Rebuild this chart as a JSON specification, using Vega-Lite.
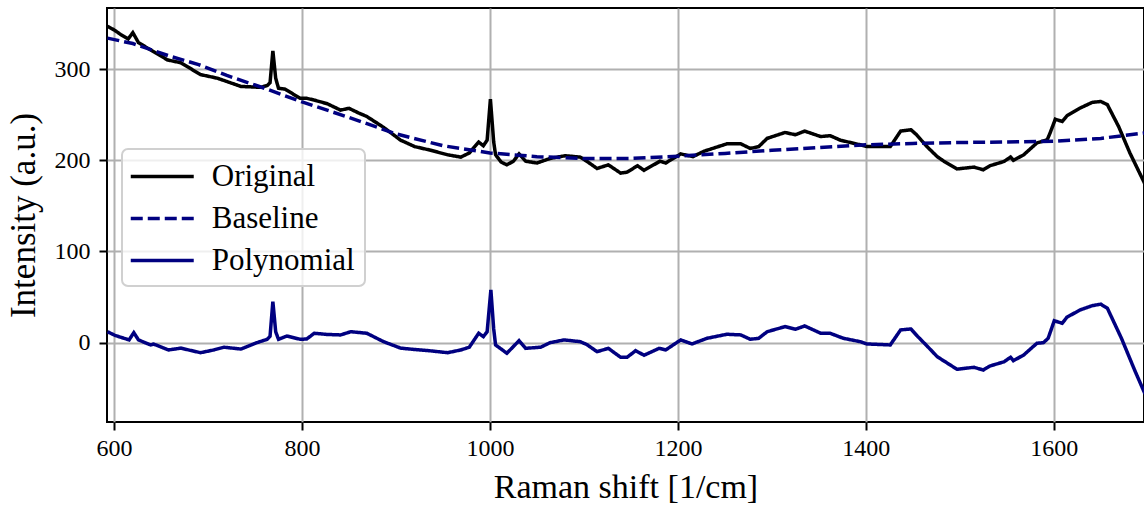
{
"$schema": "https://vega.github.io/schema/vega-lite/v6.json",
"width": 1037, "height": 414,
"autosize": "none",
"padding": {"left": 107, "top": 8, "right": 0, "bottom": 84},
"background": "white",
"config": {
  "view": {"stroke": "black", "strokeWidth": 2},
  "font": "Liberation Serif",
  "axis": {"grid": true, "gridColor": "#b0b0b0", "gridWidth": 2, "domain": false, "tickColor": "black", "tickWidth": 2, "tickSize": 8, "labelFont": "Liberation Serif", "labelFontSize": 24, "labelColor": "black", "titleFont": "Liberation Serif", "titleFontSize": 34, "titleFontWeight": "normal", "titleColor": "black", "format": "d"},
  "legend": {"orient": "none", "legendX": 15, "legendY": 141, "padding": 10, "strokeColor": "#d0d0d0", "strokeWidth": 2, "cornerRadius": 6, "fillColor": "rgba(255,255,255,0.8)", "symbolType": "M-2,0H2", "symbolSize": 992, "symbolOffset": 12.75, "symbolStrokeWidth": 3.5, "labelFont": "Liberation Serif", "labelFontSize": 31, "labelColor": "black", "labelOffset": 32, "rowPadding": 9}
},
"data": {"values": [
{"s":"Original","x":593,"y":347},{"s":"Original","x":600,"y":343},{"s":"Original","x":607,"y":338},{"s":"Original","x":615,"y":333},{"s":"Original","x":620,"y":340},{"s":"Original","x":626,"y":329},{"s":"Original","x":639,"y":321},{"s":"Original","x":657,"y":310},{"s":"Original","x":671,"y":307},{"s":"Original","x":692,"y":294},{"s":"Original","x":710,"y":290},{"s":"Original","x":735,"y":281},{"s":"Original","x":756,"y":280},{"s":"Original","x":763,"y":282},{"s":"Original","x":766,"y":285},{"s":"Original","x":769,"y":320},{"s":"Original","x":772,"y":290},{"s":"Original","x":775,"y":279},{"s":"Original","x":782,"y":278},{"s":"Original","x":798,"y":268},{"s":"Original","x":805,"y":268},{"s":"Original","x":813,"y":266},{"s":"Original","x":827,"y":262},{"s":"Original","x":841,"y":255},{"s":"Original","x":850,"y":257},{"s":"Original","x":860,"y":252},{"s":"Original","x":869,"y":248},{"s":"Original","x":887,"y":236},{"s":"Original","x":905,"y":222},{"s":"Original","x":920,"y":215},{"s":"Original","x":937,"y":211},{"s":"Original","x":955,"y":206},{"s":"Original","x":969,"y":203.5},{"s":"Original","x":978,"y":208},{"s":"Original","x":988,"y":220},{"s":"Original","x":993,"y":216},{"s":"Original","x":997,"y":222},{"s":"Original","x":1000.5,"y":267},{"s":"Original","x":1004,"y":220},{"s":"Original","x":1006,"y":206},{"s":"Original","x":1012,"y":198},{"s":"Original","x":1018,"y":195},{"s":"Original","x":1025,"y":199},{"s":"Original","x":1031,"y":207},{"s":"Original","x":1038,"y":199},{"s":"Original","x":1050,"y":197},{"s":"Original","x":1064,"y":202},{"s":"Original","x":1080,"y":205},{"s":"Original","x":1096,"y":203.5},{"s":"Original","x":1103,"y":199},{"s":"Original","x":1114,"y":191},{"s":"Original","x":1126,"y":195},{"s":"Original","x":1139,"y":186},{"s":"Original","x":1146,"y":187},{"s":"Original","x":1157,"y":194},{"s":"Original","x":1164,"y":189},{"s":"Original","x":1181,"y":199},{"s":"Original","x":1187,"y":197},{"s":"Original","x":1203,"y":207},{"s":"Original","x":1216,"y":204},{"s":"Original","x":1228,"y":210},{"s":"Original","x":1252,"y":218},{"s":"Original","x":1267,"y":218},{"s":"Original","x":1277,"y":213},{"s":"Original","x":1286,"y":215},{"s":"Original","x":1295,"y":224},{"s":"Original","x":1314,"y":230.5},{"s":"Original","x":1325,"y":228},{"s":"Original","x":1335,"y":232},{"s":"Original","x":1352,"y":226},{"s":"Original","x":1362,"y":227},{"s":"Original","x":1373,"y":222},{"s":"Original","x":1394,"y":217},{"s":"Original","x":1401,"y":215},{"s":"Original","x":1426,"y":215},{"s":"Original","x":1437,"y":232},{"s":"Original","x":1448,"y":233.5},{"s":"Original","x":1454,"y":228},{"s":"Original","x":1465,"y":215},{"s":"Original","x":1476,"y":204},{"s":"Original","x":1483,"y":199},{"s":"Original","x":1497,"y":190.5},{"s":"Original","x":1515,"y":192.5},{"s":"Original","x":1525,"y":189.6},{"s":"Original","x":1532,"y":194},{"s":"Original","x":1547,"y":198.7},{"s":"Original","x":1554,"y":203.5},{"s":"Original","x":1557,"y":200},{"s":"Original","x":1568,"y":206},{"s":"Original","x":1582,"y":219},{"s":"Original","x":1593,"y":222.5},{"s":"Original","x":1596,"y":229.8},{"s":"Original","x":1601.6,"y":245},{"s":"Original","x":1609,"y":242.6},{"s":"Original","x":1614,"y":248.8},{"s":"Original","x":1628,"y":257.3},{"s":"Original","x":1641,"y":263.5},{"s":"Original","x":1650,"y":264.5},{"s":"Original","x":1657,"y":261},{"s":"Original","x":1669,"y":237},{"s":"Original","x":1681,"y":208},{"s":"Original","x":1697,"y":174},
{"s":"Baseline","x":593,"y":334},{"s":"Baseline","x":620,"y":328},{"s":"Baseline","x":640,"y":321},{"s":"Baseline","x":660,"y":314},{"s":"Baseline","x":690,"y":305},{"s":"Baseline","x":720,"y":293},{"s":"Baseline","x":760,"y":279},{"s":"Baseline","x":800,"y":264},{"s":"Baseline","x":850,"y":247},{"s":"Baseline","x":900,"y":229},{"s":"Baseline","x":950,"y":216},{"s":"Baseline","x":1000,"y":208},{"s":"Baseline","x":1050,"y":204},{"s":"Baseline","x":1100,"y":202},{"s":"Baseline","x":1150,"y":202},{"s":"Baseline","x":1200,"y":204.5},{"s":"Baseline","x":1250,"y":207.5},{"s":"Baseline","x":1300,"y":211},{"s":"Baseline","x":1350,"y":214},{"s":"Baseline","x":1400,"y":217},{"s":"Baseline","x":1450,"y":218.5},{"s":"Baseline","x":1500,"y":219.5},{"s":"Baseline","x":1550,"y":220},{"s":"Baseline","x":1600,"y":221},{"s":"Baseline","x":1650,"y":224},{"s":"Baseline","x":1697,"y":230},
{"s":"Polynomial","x":593,"y":12},{"s":"Polynomial","x":601,"y":8},{"s":"Polynomial","x":610,"y":5},{"s":"Polynomial","x":616,"y":3},{"s":"Polynomial","x":621,"y":11},{"s":"Polynomial","x":626,"y":3},{"s":"Polynomial","x":639,"y":-2.5},{"s":"Polynomial","x":642,"y":-1.5},{"s":"Polynomial","x":658,"y":-8},{"s":"Polynomial","x":671,"y":-6},{"s":"Polynomial","x":692,"y":-11},{"s":"Polynomial","x":706,"y":-8},{"s":"Polynomial","x":717,"y":-5},{"s":"Polynomial","x":735,"y":-7},{"s":"Polynomial","x":752,"y":0},{"s":"Polynomial","x":763,"y":3.7},{"s":"Polynomial","x":766,"y":7},{"s":"Polynomial","x":769,"y":45},{"s":"Polynomial","x":772,"y":12},{"s":"Polynomial","x":775,"y":3.7},{"s":"Polynomial","x":784,"y":7.3},{"s":"Polynomial","x":798,"y":3.7},{"s":"Polynomial","x":805,"y":4},{"s":"Polynomial","x":813,"y":10.3},{"s":"Polynomial","x":827,"y":9},{"s":"Polynomial","x":841,"y":8.5},{"s":"Polynomial","x":852,"y":12},{"s":"Polynomial","x":869,"y":10.3},{"s":"Polynomial","x":887,"y":1},{"s":"Polynomial","x":905,"y":-6},{"s":"Polynomial","x":920,"y":-7.5},{"s":"Polynomial","x":937,"y":-9},{"s":"Polynomial","x":955,"y":-11},{"s":"Polynomial","x":969,"y":-8},{"s":"Polynomial","x":978,"y":-5},{"s":"Polynomial","x":988,"y":10.3},{"s":"Polynomial","x":993,"y":6.6},{"s":"Polynomial","x":997,"y":12},{"s":"Polynomial","x":1001,"y":57.8},{"s":"Polynomial","x":1004,"y":15},{"s":"Polynomial","x":1006,"y":-2.5},{"s":"Polynomial","x":1018,"y":-11.6},{"s":"Polynomial","x":1031,"y":2.2},{"s":"Polynomial","x":1038,"y":-6.2},{"s":"Polynomial","x":1054,"y":-5},{"s":"Polynomial","x":1064,"y":0},{"s":"Polynomial","x":1079,"y":3},{"s":"Polynomial","x":1096,"y":1.1},{"s":"Polynomial","x":1103,"y":-2},{"s":"Polynomial","x":1114,"y":-9.9},{"s":"Polynomial","x":1126,"y":-6.2},{"s":"Polynomial","x":1139,"y":-16},{"s":"Polynomial","x":1146,"y":-16},{"s":"Polynomial","x":1155,"y":-8.8},{"s":"Polynomial","x":1164,"y":-13.8},{"s":"Polynomial","x":1180,"y":-6.2},{"s":"Polynomial","x":1187,"y":-8},{"s":"Polynomial","x":1203,"y":3},{"s":"Polynomial","x":1215,"y":-1.4},{"s":"Polynomial","x":1231,"y":4.8},{"s":"Polynomial","x":1252,"y":9.2},{"s":"Polynomial","x":1267,"y":8.5},{"s":"Polynomial","x":1277,"y":3.7},{"s":"Polynomial","x":1286,"y":4.8},{"s":"Polynomial","x":1295,"y":12},{"s":"Polynomial","x":1314,"y":17.6},{"s":"Polynomial","x":1325,"y":14.7},{"s":"Polynomial","x":1335,"y":18.3},{"s":"Polynomial","x":1352,"y":10.3},{"s":"Polynomial","x":1362,"y":10.3},{"s":"Polynomial","x":1376,"y":4.8},{"s":"Polynomial","x":1394,"y":1.1},{"s":"Polynomial","x":1401,"y":-1.4},{"s":"Polynomial","x":1426,"y":-2.5},{"s":"Polynomial","x":1437,"y":14},{"s":"Polynomial","x":1448,"y":15},{"s":"Polynomial","x":1455,"y":7},{"s":"Polynomial","x":1465,"y":-3.5},{"s":"Polynomial","x":1476,"y":-15.4},{"s":"Polynomial","x":1483,"y":-20},{"s":"Polynomial","x":1497,"y":-29.2},{"s":"Polynomial","x":1515,"y":-27},{"s":"Polynomial","x":1525,"y":-30},{"s":"Polynomial","x":1532,"y":-25.6},{"s":"Polynomial","x":1547,"y":-21},{"s":"Polynomial","x":1554,"y":-16},{"s":"Polynomial","x":1557,"y":-19.8},{"s":"Polynomial","x":1568,"y":-13.5},{"s":"Polynomial","x":1582,"y":-0.7},{"s":"Polynomial","x":1589,"y":0},{"s":"Polynomial","x":1594,"y":4.8},{"s":"Polynomial","x":1600.5,"y":24},{"s":"Polynomial","x":1609,"y":21.3},{"s":"Polynomial","x":1614,"y":27.9},{"s":"Polynomial","x":1628,"y":35.9},{"s":"Polynomial","x":1641,"y":40.6},{"s":"Polynomial","x":1650,"y":42.2},{"s":"Polynomial","x":1657,"y":37.8},{"s":"Polynomial","x":1672,"y":4.8},{"s":"Polynomial","x":1686,"y":-30},{"s":"Polynomial","x":1697,"y":-56}
]},
"mark": {"type": "line", "strokeWidth": 3.5, "clip": true},
"encoding": {
  "x": {"field": "x", "type": "quantitative", "scale": {"domain": [592.5, 1696], "nice": false, "zero": false}, "axis": {"values": [600, 800, 1000, 1200, 1400, 1600], "title": "Raman shift [1/cm]", "labelPadding": 6, "titlePadding": 10}},
  "y": {"field": "y", "type": "quantitative", "scale": {"domain": [-87, 367], "nice": false, "zero": false}, "axis": {"values": [0, 100, 200, 300], "title": "Intensity (a.u.)", "titleFontSize": 35, "labelPadding": 9, "titlePadding": 13}},
  "color": {"field": "s", "type": "nominal", "scale": {"domain": ["Original", "Baseline", "Polynomial"], "range": ["black", "#000080", "#000080"]}, "legend": {"title": null}},
  "strokeDash": {"field": "s", "type": "nominal", "scale": {"domain": ["Original", "Baseline", "Polynomial"], "range": [[1, 0], [12, 5], [1, 0]]}, "legend": {"title": null}}
}
}
